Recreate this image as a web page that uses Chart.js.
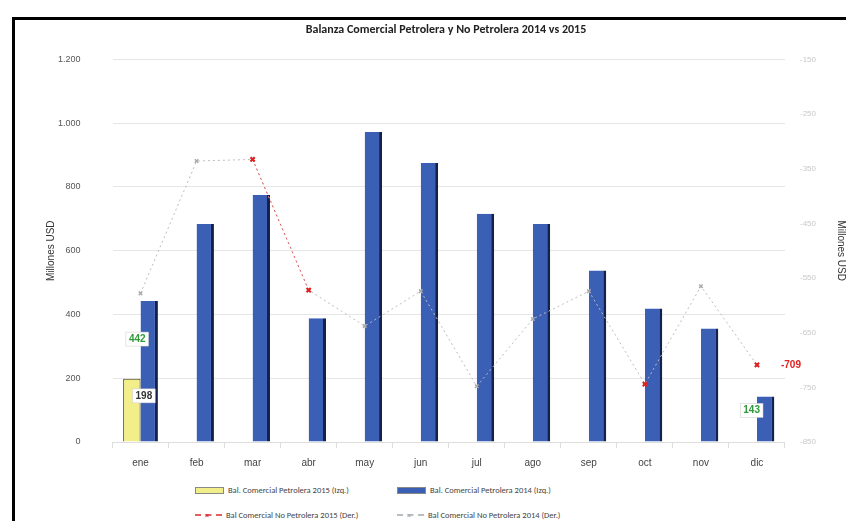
<!DOCTYPE html>
<html>
<head>
<meta charset="utf-8">
<script src="https://cdn.jsdelivr.net/npm/chart.js@4.4.0/dist/chart.umd.min.js"></script>
<style>
  html, body { margin: 0; padding: 0; background: #fff; }
  body { width: 846px; height: 521px; overflow: hidden; position: relative; font-family: Calibri, "Liberation Sans", Arial, sans-serif; }
  #marco { position: absolute; left: 12px; top: 17px; width: 900px; height: 600px; border: 3px solid #000; box-sizing: border-box; }
  #wrap { position: absolute; left: 15px; top: 20px; width: 836px; height: 458px; }
  #leyenda { position: absolute; left: 195px; top: 485px; display: grid; grid-template-columns: 202px 260px; row-gap: 15px; font-size: 8.5px; color: #444; }
  #leyenda div { display: flex; align-items: center; }
  #leyenda span.caja { display: inline-block; width: 27px; height: 5px; margin-right: 4px; position: relative; }
  #leyenda span.marca { position: absolute; left: 10px; top: -6px; font-size: 8px; font-weight: bold; }
</style>
</head>
<body>
<div id="marco"></div>
<div id="wrap"><canvas id="myChart"></canvas></div>
<div id="leyenda"></div>
<script>
const meses = ['ene', 'feb', 'mar', 'abr', 'may', 'jun', 'jul', 'ago', 'sep', 'oct', 'nov', 'dic'];

// Petrolera (eje izquierdo, millones USD)
const petrolera2015 = [198, null, null, null, null, null, null, null, null, null, null, null];
const petrolera2014 = [442, 684, 775, 388, 972, 875, 716, 684, 538, 419, 356, 143];

// No petrolera (eje derecho)
const noPetrolera2015 = [null, null, -333, -572, null, null, null, null, null, -744, null, -709];
const noPetrolera2014 = [-578, -336, -333, -572, -638, -574, -748, -625, -574, -744, -565, -709];

const ticksIzq = [0, 200, 400, 600, 800, 1000, 1200];

const ctx = document.getElementById('myChart');

// etiquetas de datos que se ven en el grafico
const etiquetas = {
    id: 'etiquetas',
    afterDatasetsDraw(chart) {
        const c = chart.ctx;
        c.save();
        c.font = 'bold 10px "Liberation Sans", Arial';
        c.textAlign = 'center';
        c.textBaseline = 'middle';

        const caja = (texto, x, y, color) => {
            const w = c.measureText(texto).width + 6;
            c.fillStyle = '#fff';
            c.fillRect(x - w / 2, y - 7, w, 14);
            c.strokeStyle = '#ccc';
            c.lineWidth = 0.5;
            c.strokeRect(x - w / 2, y - 7, w, 14);
            c.fillStyle = color;
            c.fillText(texto, x, y);
        };

        const m0 = chart.getDatasetMeta(0).data[0];
        caja(String(petrolera2015[0]), m0.x + 12, m0.y + 17, '#333');

        const m1 = chart.getDatasetMeta(1);
        caja(String(petrolera2014[0]), m1.data[0].x - 12, m1.data[0].y + 38, '#2e9a3a');
        caja(String(petrolera2014[11]), m1.data[11].x - 14, m1.data[11].y + 14, '#2e9a3a');

        const m2 = chart.getDatasetMeta(2).data[11];
        c.fillStyle = '#e02020';
        c.textAlign = 'left';
        c.fillText(String(noPetrolera2015[11]), m2.x + 24, m2.y);
        c.restore();
    }
};

const chart = new Chart(ctx, {
    type: 'bar',
    data: {
        labels: meses,
        datasets: [{
            label: 'Bal. Comercial Petrolera 2015 (Izq.)',
            data: petrolera2015,
            backgroundColor: '#f2ef8a',
            borderColor: '#3a3a10',
            borderWidth: 1,
            yAxisID: 'y',
            order: 2
        }, {
            label: 'Bal. Comercial Petrolera 2014 (Izq.)',
            data: petrolera2014,
            backgroundColor: '#3a5fb5',
            borderColor: '#14214a',
            borderWidth: { top: 0, left: 0, right: 3, bottom: 0 },
            yAxisID: 'y',
            order: 2
        }, {
            type: 'line',
            label: 'Bal Comercial No Petrolera 2015 (Der.)',
            data: noPetrolera2015,
            borderColor: '#e06060',
            backgroundColor: '#e02020',
            borderWidth: 1,
            borderDash: [2, 3],
            pointStyle: 'crossRot',
            pointRadius: 3,
            pointBorderWidth: 2,
            pointBorderColor: '#e02020',
            yAxisID: 'y1',
            order: 0
        }, {
            type: 'line',
            label: 'Bal Comercial No Petrolera 2014 (Der.)',
            data: noPetrolera2014,
            borderColor: '#bdbdbd',
            backgroundColor: '#999',
            borderWidth: 1,
            borderDash: [2, 3],
            pointStyle: 'crossRot',
            pointRadius: 2.5,
            pointBorderWidth: 1.5,
            pointBorderColor: '#aaa',
            yAxisID: 'y1',
            order: 1
        }]
    },
    options: {
        responsive: true,
        maintainAspectRatio: false,
        animation: false,
        layout: { padding: { left: 26, right: 0, top: 0, bottom: 0 } },
        datasets: { bar: { categoryPercentage: 0.62, barPercentage: 1 } },
        plugins: {
            legend: { display: false },
            tooltip: { enabled: false },
            title: {
                display: true,
                text: 'Balanza Comercial Petrolera y No Petrolera 2014 vs 2015',
                color: '#222',
                font: { family: 'Calibri, "Liberation Sans", Arial', size: 12, weight: 'bold' },
                padding: { top: 3, bottom: 22 }
            }
        },
        scales: {
            x: {
                grid: { display: true, drawOnChartArea: false, color: '#ddd', tickLength: 6 },
                border: { color: '#ddd' },
                ticks: { color: '#444', font: { size: 10 }, padding: 9 }
            },
            y: {
                position: 'left',
                min: 0,
                max: 1200,
                afterBuildTicks(axis) { axis.ticks = ticksIzq.map(v => ({ value: v })); },
                grid: { color: '#e6e6e6', drawTicks: true, tickLength: 31, tickColor: 'rgba(0,0,0,0)' },
                border: { display: false },
                ticks: {
                    color: '#555',
                    font: { size: 9 },
                    padding: 1,
                    callback: v => v.toLocaleString('es-ES', { useGrouping: 'always' })
                },
                title: { display: true, text: 'Millones USD', color: '#333', font: { size: 10 }, padding: { top: 4, bottom: 0 } }
            },
            y1: {
                position: 'right',
                min: -850,
                max: -150,
                ticks: {
                    stepSize: 100,
                    color: '#c8c8c8',
                    font: { size: 8 },
                    padding: 15,
                    callback: v => v.toLocaleString('es-ES')
                },
                grid: { drawOnChartArea: false, drawTicks: false },
                border: { display: false },
                title: { display: true, text: 'Millones USD', color: '#333', font: { size: 10 } }
            }
        }
    },
    plugins: [etiquetas]
});

// leyenda en dos columnas
const leyenda = document.getElementById('leyenda');
chart.data.datasets.forEach((ds) => {
    const item = document.createElement('div');
    const caja = document.createElement('span');
    caja.className = 'caja';
    if (ds.type === 'line') {
        caja.style.height = '0';
        caja.style.borderTop = '2px dashed ' + ds.borderColor;
        const marca = document.createElement('span');
        marca.className = 'marca';
        marca.style.color = ds.pointBorderColor;
        marca.textContent = '×';
        caja.appendChild(marca);
    } else {
        caja.style.background = ds.backgroundColor;
        caja.style.border = '1px solid #888';
    }
    item.appendChild(caja);
    item.appendChild(document.createTextNode(ds.label));
    leyenda.appendChild(item);
});
</script>
</body>
</html>
